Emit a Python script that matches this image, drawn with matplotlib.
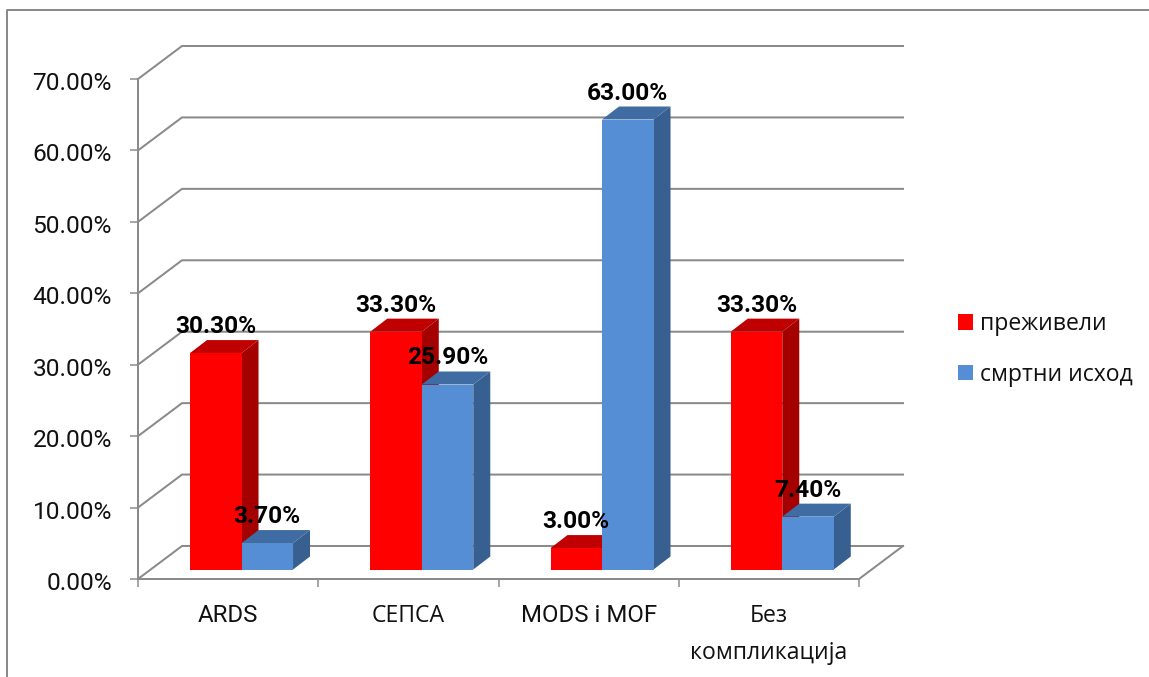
import matplotlib
matplotlib.use("Agg")
import matplotlib.pyplot as plt
from matplotlib.lines import Line2D
from matplotlib.patches import Patch, Polygon
from matplotlib.ticker import FuncFormatter
from matplotlib.transforms import ScaledTranslation

categories = ["ARDS", "СЕПСА", "MODS i MOF", "Без\nкомпликација"]
survived = [30.3, 33.3, 3.0, 33.3]
deceased = [3.7, 25.9, 63.0, 7.4]
series_names = ["преживели", "смртни исход"]
y_ticks = [0, 10, 20, 30, 40, 50, 60, 70]

W, H = 1149, 677
GRAY = "#8a8a8a"
LATIN = "Roboto"
CYR = "Open Sans"
px = 72 / 100  # points per pixel at 100 dpi

fig = plt.figure(figsize=(W / 100, H / 100), dpi=100, facecolor="white")
L, R, B, T = 138, 859, 579, 79
ax = fig.add_axes([L / W, 1 - B / H, (R - L) / W, (B - T) / H])
ax.set_xlim(0, 4)
ax.set_ylim(0, 70)
ax.patch.set_visible(False)

x_per_px = 4 / (R - L)
y_per_px = 70 / (B - T)
wall_dx, wall_dy = 44 * x_per_px, 33 * y_per_px

# Back wall gridlines with their slanted runs along the side wall
for v in y_ticks:
    ax.plot([0, wall_dx, 4 + wall_dx], [v, v + wall_dy, v + wall_dy],
            color=GRAY, lw=2 * px, clip_on=False, zorder=1, solid_joinstyle="miter")
ax.plot([4, 4 + wall_dx], [0, wall_dy], color=GRAY, lw=2 * px, clip_on=False, zorder=1)

# Bar geometry: the front face sits part way into the floor depth
bar_w = 51.5 * x_per_px
front_dx, front_dy = 13.4 * x_per_px, 9.5 * y_per_px
depth_dx, depth_dy = 17 * x_per_px, 13 * y_per_px


def draw_bar(x0, value, face, top, side, z):
    x1 = x0 + bar_w
    y0, y1 = front_dy, front_dy + value
    ax.add_patch(Polygon([(x1, y0), (x1 + depth_dx, y0 + depth_dy),
                          (x1 + depth_dx, y1 + depth_dy), (x1, y1)],
                         fc=side, ec="none", clip_on=False, zorder=z))
    ax.add_patch(Polygon([(x0, y1), (x1, y1), (x1 + depth_dx, y1 + depth_dy),
                          (x0 + depth_dx, y1 + depth_dy)],
                         fc=top, ec="none", clip_on=False, zorder=z))
    ax.add_patch(Polygon([(x0, y0), (x1, y0), (x1, y1), (x0, y1)],
                         fc=face, ec="none", clip_on=False, zorder=z))


def draw_value(x0, value):
    ax.annotate(f"{value:.2f}%", (x0 + bar_w / 2, front_dy + value),
                xytext=(0, 26.5 * px), textcoords="offset points",
                ha="center", va="center", fontsize=24.5 * px,
                fontweight="bold", family=LATIN, color="black", zorder=20,
                annotation_clip=False)


for i, (a, b) in enumerate(zip(survived, deceased)):
    center = i + 0.5 + front_dx
    draw_bar(center - bar_w, a, "#ff0000", "#c00000", "#a50000", 5 + i)
    draw_bar(center, b, "#558ed5", "#3f6ca3", "#375f8f", 5.5 + i)

for i, (a, b) in enumerate(zip(survived, deceased)):
    center = i + 0.5 + front_dx
    draw_value(center - bar_w, a)
    draw_value(center, b)

# Axes
for name in ("top", "right"):
    ax.spines[name].set_visible(False)
for name in ("left", "bottom"):
    ax.spines[name].set_color(GRAY)
    ax.spines[name].set_linewidth(2 * px)
ax.set_yticks(y_ticks)
ax.yaxis.set_major_formatter(FuncFormatter(lambda v, _: f"{v:.2f}%"))
ax.tick_params(axis="y", length=8 * px, width=1.5 * px, color=GRAY, pad=18 * px,
               labelsize=24.5 * px, labelcolor="#111111")
# Value labels sit slightly below their ticks
label_shift = ScaledTranslation(0, -2 / 100, fig.dpi_scale_trans)
for t in ax.get_yticklabels():
    t.set_family(LATIN)
    t.set_transform(t.get_transform() + label_shift)

ax.set_xticks([0, 1, 2, 3, 4])
ax.tick_params(axis="x", length=8 * px, width=1.5 * px, color=GRAY, labelbottom=False)
for i, label in enumerate(categories):
    latin = label.isascii()
    ax.annotate(label, (i + 0.5, 0), xytext=(0, -25 * px), textcoords="offset points",
                ha="center", va="top", family=LATIN if latin else CYR,
                fontsize=(24 if latin else 23) * px, color="#111111",
                linespacing=1.7, annotation_clip=False)

# Legend
handles = [Patch(fc="#ff0000", ec="none"), Patch(fc="#558ed5", ec="none")]
fig.legend(handles, series_names, loc="upper left",
           bbox_to_anchor=(952 / W, 1 - 306 / H), frameon=False,
           prop={"family": CYR, "size": 23 * px}, handlelength=0.65,
           handleheight=0.65, handletextpad=0.3, labelspacing=1.17,
           borderpad=0.26, borderaxespad=0, labelcolor="#111111")

# Chart-area frame, visible along the top and left
fig.add_artist(Line2D([7 / W, 7 / W, 1], [0, 1 - 10 / H, 1 - 10 / H],
                      color=GRAY, lw=2 * px, transform=fig.transFigure))

fig.savefig("out.png", dpi=100, facecolor="white")
